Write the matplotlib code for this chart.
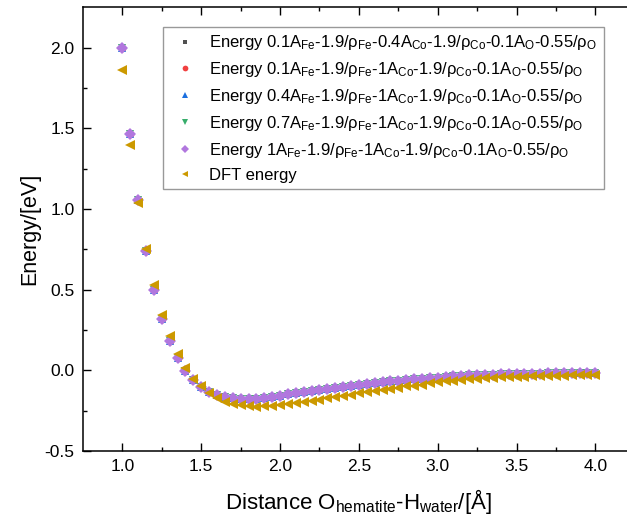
import matplotlib
matplotlib.use("Agg")
import matplotlib.pyplot as plt

plt.rcParams['font.family'] = ['Liberation Sans', 'DejaVu Sans']
plt.rcParams['mathtext.fontset'] = 'custom'
plt.rcParams['mathtext.rm'] = 'Liberation Sans'
plt.rcParams['mathtext.it'] = 'Liberation Sans:italic'
plt.rcParams['axes.unicode_minus'] = False

# O(hematite)-H(water) distance grid, Angstrom
distance = [1.00, 1.05, 1.10, 1.15, 1.20, 1.25, 1.30, 1.35, 1.40, 1.45,
            1.50, 1.55, 1.60, 1.65, 1.70, 1.75, 1.80, 1.85, 1.90, 1.95,
            2.00, 2.05, 2.10, 2.15, 2.20, 2.25, 2.30, 2.35, 2.40, 2.45,
            2.50, 2.55, 2.60, 2.65, 2.70, 2.75, 2.80, 2.85, 2.90, 2.95,
            3.00, 3.05, 3.10, 3.15, 3.20, 3.25, 3.30, 3.35, 3.40, 3.45,
            3.50, 3.55, 3.60, 3.65, 3.70, 3.75, 3.80, 3.85, 3.90, 3.95,
            4.00]

# fitted potential (all five parameter sets give practically the same curve)
e_fit = [2.000, 1.462, 1.054, 0.739, 0.499, 0.317, 0.179, 0.075, -0.002, -0.059,
         -0.101, -0.132, -0.153, -0.164, -0.171, -0.176, -0.177, -0.176, -0.171, -0.163,
         -0.156, -0.149, -0.143, -0.137, -0.130, -0.122, -0.115, -0.109, -0.103, -0.096,
         -0.090, -0.084, -0.078, -0.074, -0.068, -0.064, -0.060, -0.056, -0.053, -0.050,
         -0.046, -0.042, -0.038, -0.035, -0.032, -0.030, -0.028, -0.027, -0.025, -0.024,
         -0.023, -0.022, -0.021, -0.020, -0.019, -0.018, -0.018, -0.017, -0.016, -0.016,
         -0.015]

e_dft = [1.861, 1.398, 1.037, 0.752, 0.530, 0.346, 0.210, 0.103, 0.012, -0.054,
         -0.100, -0.140, -0.174, -0.194, -0.209, -0.217, -0.224, -0.225, -0.223, -0.220,
         -0.214, -0.207, -0.201, -0.195, -0.188, -0.181, -0.174, -0.166, -0.158, -0.150,
         -0.142, -0.135, -0.128, -0.121, -0.114, -0.107, -0.100, -0.094, -0.088, -0.081,
         -0.075, -0.069, -0.064, -0.059, -0.055, -0.051, -0.048, -0.046, -0.044, -0.042,
         -0.040, -0.039, -0.038, -0.036, -0.035, -0.034, -0.033, -0.032, -0.031, -0.030,
         -0.029]

fit_params = [("0.1", "0.4"), ("0.1", "1"), ("0.4", "1"), ("0.7", "1"), ("1", "1")]
fit_colors = ["#515151", "#F14040", "#1A6FDF", "#37AD6B", "#B177DE"]
fit_markers = ["s", "o", "^", "v", "D"]
fit_sizes = [4.5, 5.5, 6, 6, 6]


def fit_label(a_fe, a_co):
    return ("Energy " + a_fe + r"A$_{\mathrm{Fe}}$-1.9/ρ$_{\mathrm{Fe}}$-" + a_co +
            r"A$_{\mathrm{Co}}$-1.9/ρ$_{\mathrm{Co}}$-0.1A$_{\mathrm{O}}$-0.55/ρ$_{\mathrm{O}}$")


fig = plt.figure(figsize=(6.27, 5.22), dpi=100)
ax = fig.add_axes([0.1324, 0.136, 0.880, 0.850])

for (a_fe, a_co), c, m, ms in zip(fit_params, fit_colors, fit_markers, fit_sizes):
    ax.plot(distance, e_fit, linestyle="none", marker=m, color=c, markersize=ms,
            markeredgewidth=0, label=fit_label(a_fe, a_co))
ax.plot(distance, e_dft, linestyle="none", marker="<", color="#CC9900", markersize=6.5,
        markeredgewidth=0, label="DFT energy")

ax.set_xlim(0.75, 4.25)
ax.set_ylim(-0.5, 2.25)
ax.set_xticks([1.0, 1.5, 2.0, 2.5, 3.0, 3.5, 4.0])
ax.set_xticks([1.25, 1.75, 2.25, 2.75, 3.25, 3.75], minor=True)
ax.set_yticks([-0.5, 0.0, 0.5, 1.0, 1.5, 2.0])
ax.set_yticks([-0.25, 0.25, 0.75, 1.25, 1.75], minor=True)
ax.tick_params(which="both", direction="in", top=True, right=True, width=1,
               labelsize=12.5, pad=6)
ax.tick_params(which="major", length=6)
ax.tick_params(which="minor", length=3)
for s in ax.spines.values():
    s.set_linewidth(1.1)

ax.set_xlabel(r"Distance O$_{\mathrm{hematite}}$-H$_{\mathrm{water}}$/[Å]", fontsize=16, labelpad=9)
ax.set_ylabel("Energy/[eV]", fontsize=15.5, labelpad=3)

leg = ax.legend(loc="upper left", bbox_to_anchor=(0.145, 0.956), borderaxespad=0,
                fontsize=12, frameon=True, fancybox=False, markerscale=0.75,
                handlelength=1.8, handletextpad=0.55, labelspacing=0.47,
                borderpad=0.4)
leg.get_frame().set_edgecolor("#808080")
leg.get_frame().set_linewidth(1.0)

fig.savefig("out.png", dpi=100)
